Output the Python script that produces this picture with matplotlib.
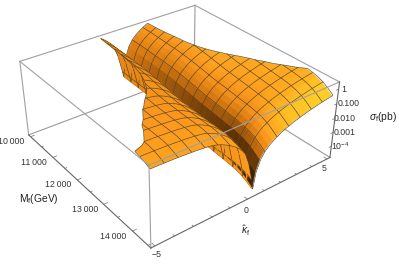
import numpy as np, matplotlib
matplotlib.use("Agg")
import matplotlib.pyplot as plt
from matplotlib.colors import LinearSegmentedColormap
from mpl_toolkits.mplot3d import proj3d
from mpl_toolkits.mplot3d.art3d import Poly3DCollection

plt.rcParams['font.family']=['Liberation Sans','DejaVu Sans']
plt.rcParams['mathtext.fontset']='custom'
plt.rcParams['mathtext.rm']='Liberation Sans'
plt.rcParams['mathtext.it']='Liberation Sans:italic'
plt.rcParams['mathtext.bf']='Liberation Sans:bold'
plt.rcParams['mathtext.default']='regular'

# ---- values ------------------------------------------------------------
# kappa nodes and the height (decades) of each sheet across kappa
kappa_left=[-5.0,-4.778,-4.556,-4.333,-4.111,-3.889,-3.667,-3.444,-3.222,-3.0,-2.778,-2.556,-2.333,-2.111,
            -1.889,-1.667,-1.444,-1.222,-1.0,-0.778,-0.556,-0.333,-0.111,0.111,0.333]
profile_left=[1.40,1.395,1.39,1.38,1.37,1.36,1.345,1.33,1.31,1.29,1.27,1.24,1.21,1.17,
              1.12,1.03,0.92,0.78,0.62,0.44,0.22,-0.05,-0.45,-1.2,-2.4]
kappa_valley=0.4
profile_valley=-2.88
kappa_right=[0.43,0.556,0.778,1.0,1.222,1.444,1.667,1.889,2.111,2.333,2.556,2.778,3.0,3.222,3.444,3.667,
             3.889,4.111,4.333,4.556,4.778,5.0]
profile_right=[-2.6,-1.61,-0.845,-0.44,-0.17,0.04,0.2,0.35,0.47,0.57,0.67,0.75,0.83,0.9,0.97,1.03,
               1.085,1.14,1.19,1.24,1.28,1.325]
# mass nodes and the height (decades) of each sheet along the mass direction
mass_nodes=[10000,10150,10300,10450,10600,10750,10900,11050,11200,11350,11500,11650,11800,11950,12100,12250,
            12400,12550,12700,12850,13000,13150,13300,13450,13600,13750,13900,14050,14200,14350,14500]
mass_right=[-.02,-.03,-.04,-.05,-.07,-.09,-.11,-.13,-.14,-.17,-.20,-.24,-.29,-.34,-.40,-.46,
            -.52,-.58,-.63,-.67,-.72,-.76,-.81,-.86,-.90,-.955,-1.03,-1.13,-1.28,-1.51,-1.78]
mass_left=[-.13,-.15,-.17,-.19,-.21,-.23,-.25,-.27,-.30,-.33,-.37,-.42,-.47,-.53,-.60,-.67,
           -.74,-.80,-.85,-.89,-.92,-.94,-.96,-.98,-.99,-1.00,-1.01,-1.03,-1.10,-1.22,-1.36]
z_clip_top=0.37
z_clip_bottom=-4.73

mass_ticks=[10000,11000,12000,13000,14000]
mass_tick_labels=['10\u2009000','11\u2009000','12\u2009000','13\u2009000','14\u2009000']
mass_minor=[10500,11500,12500,13500,14500]
kappa_ticks=[-5,0,5]
kappa_tick_labels=['\u22125','0','5']
kappa_minor=[-4,-3,-2,-1,1,2,3,4]
z_ticks=[0,-1,-2,-3,-4]
z_tick_labels=['1','0.100','0.010','0.001','$10^{-4}$']
z_label_dx=[5,12,10,12,9]

# ---- view ----------------------------------------------------------------
W,H=399,267
xl=(9910,14590); yl=(-5.2,5.2); zl=(-4.83,0.48)
elev,azim,focal=31.87,-37.26,0.4571
aspect=(1,1.0079,0.398)
fig=plt.figure(figsize=(W/100,H/100),dpi=100)
ax=fig.add_axes([14.12/W,-4.69/H,315.3/W,315.3/H],projection='3d')
ax.set_xlim(*xl);ax.set_ylim(*yl);ax.set_zlim(*zl)
ax.view_init(elev,azim);ax.set_proj_type('persp',focal_length=focal);ax.set_box_aspect(aspect)
ax.set_axis_off();ax.patch.set_alpha(0);ax.computed_zorder=False

# ---- surface -------------------------------------------------------------
K=np.r_[kappa_left,kappa_valley,kappa_right]
M=np.array(mass_nodes,float);gr=np.array(mass_right);gl=np.array(mass_left)
Zg=np.hstack([np.array(profile_left)[None,:]+gl[:,None],(profile_valley+(gr+gl)/2)[:,None],np.array(profile_right)[None,:]+gr[:,None]])

rng=np.array([xl[1]-xl[0],yl[1]-yl[0],zl[1]-zl[0]])
asp=np.array(aspect)
L=np.array([0.60,0.24,0.76]);L=L/np.linalg.norm(L)
cmap=LinearSegmentedColormap.from_list('o',[(0,'#3c1e04'),(.25,'#7a4208'),(.5,'#d97a10'),(.68,'#fb981c'),(.82,'#ffb020'),(1,'#ffe028')])
def shade(q):
    b=q/rng*asp
    n=np.cross(b[2]-b[0],b[3]-b[1]);n=n/np.linalg.norm(n)
    if n[2]<0:n=-n
    t=np.clip(n@L,0,1)
    m=(q[:,0].mean()-M[0])/(M[-1]-M[0])
    if q[:,1].mean()<kappa_valley:
        t=0.60+0.12*m**2+0.08*(t-0.7)
    else:
        t=t+0.5*(1-m)*(1-t)**2
    return cmap(np.clip(t,0,1))
def clip(poly):
    for lim,sgn in ((z_clip_top,1),(z_clip_bottom,-1)):
        out=[]
        for i in range(len(poly)):
            a,b=poly[i],poly[(i+1)%len(poly)]
            ia=sgn*(a[2]-lim)<=0;ib=sgn*(b[2]-lim)<=0
            if ia:out.append(a)
            if ia!=ib:
                t=(lim-a[2])/(b[2]-a[2]);out.append(a+t*(b-a))
        poly=out
        if not poly:break
    return poly
def clipseg(a,b):
    for lim,sgn in ((z_clip_top,1),(z_clip_bottom,-1)):
        ia=sgn*(a[2]-lim)<=0;ib=sgn*(b[2]-lim)<=0
        if not ia and not ib:return None
        if ia!=ib:
            t=(lim-a[2])/(b[2]-a[2]);c=a+t*(b-a)
            if ia:b=c
            else:a=c
    return a,b

eye=np.array([np.cos(np.radians(elev))*np.cos(np.radians(azim)),np.cos(np.radians(elev))*np.sin(np.radians(azim)),np.sin(np.radians(elev))])
lift=eye*rng/asp*0.035

verts=[];fc=[];ec=[]
P=np.dstack([np.broadcast_to(M[:,None],Zg.shape),np.broadcast_to(K[None,:],Zg.shape),Zg])
nm,nk=Zg.shape
mesh_col=(0.33,0.26,0.14,1)
for i in range(nm-1):
    for j in range(nk-1):
        q=np.array([P[i,j],P[i+1,j],P[i+1,j+1],P[i,j+1]])
        c=shade(q)
        pl=clip(list(q))
        if len(pl)<3:continue
        verts.append(np.array(pl));fc.append(c);ec.append(c)
        for a,b in zip(pl,pl[1:]+pl[:1]):
            if abs(a[2]-z_clip_top)<1e-9 and abs(b[2]-z_clip_top)<1e-9:
                verts.append(np.array([a+lift,b+lift]));fc.append((0,0,0,0));ec.append(mesh_col)
mesh_k=[j for j,k in enumerate(K) if np.min(np.abs(abs(k)-np.array([0.333,1.0,1.667,2.333,3.0,3.667,4.333,5.0])))<1e-3]
mesh_m=list(range(0,nm,2))
for j in mesh_k:
    for i in range(nm-1):
        s=clipseg(P[i,j],P[i+1,j])
        if s:verts.append(np.array([s[0]+lift,s[1]+lift]));fc.append((0,0,0,0));ec.append(mesh_col)
for i in mesh_m:
    for j in range(nk-1):
        s=clipseg(P[i,j],P[i,j+1])
        if s:verts.append(np.array([s[0]+lift,s[1]+lift]));fc.append((0,0,0,0));ec.append(mesh_col)
surf=Poly3DCollection(verts,facecolors=fc,edgecolors=ec,linewidths=0.45,zorder=5)
ax.add_collection3d(surf);surf.set_clip_on(False)

# ---- box -----------------------------------------------------------------
def pt(a,b,c):return (xl[a],yl[b],zl[c])
back=[(pt(0,0,0),pt(0,1,0)),(pt(0,1,0),pt(1,1,0)),(pt(0,1,0),pt(0,1,1))]
front=[(pt(0,0,1),pt(0,1,1)),(pt(0,1,1),pt(1,1,1)),(pt(0,0,1),pt(1,0,1)),(pt(1,0,1),pt(1,1,1)),
       (pt(0,0,1),pt(0,0,0)),(pt(1,0,1),pt(1,0,0))]
axes_e=[(pt(0,0,0),pt(1,0,0)),(pt(1,0,0),pt(1,1,0)),(pt(1,1,0),pt(1,1,1))]
for a,b in back:ax.plot(*zip(a,b),color='#9a9a9a',lw=0.8,zorder=1,clip_on=False)
for a,b in front:ax.plot(*zip(a,b),color='#a0a0a0',lw=0.8,zorder=8,clip_on=False)
for a,b in axes_e:ax.plot(*zip(a,b),color='#666666',lw=0.8,zorder=8,clip_on=False)

# ---- ticks and labels -----------------------------------------------------
tk=dict(color='#707070',lw=0.5,zorder=9,clip_on=False)
Pm=ax.get_proj()
def label(x,y,z,s,dx,dy,ha='center',fs=6.3):
    X,Y,_=proj3d.proj_transform(x,y,z,Pm)
    ax.annotate(s,xy=(X,Y),xycoords='data',xytext=(dx,dy),textcoords='offset pixels',ha=ha,va='center',fontsize=fs,color='#333333',annotation_clip=False)
y0,z0,x1,y1=yl[0],zl[0],xl[1],yl[1]
for m in mass_ticks:ax.plot([m,m],[y0,y0+.2],[z0,z0],**tk)
for m in mass_minor:ax.plot([m,m],[y0,y0+.1],[z0,z0],**tk)
for k in kappa_ticks:ax.plot([x1,x1-90],[k,k],[z0,z0],**tk)
for k in kappa_minor:ax.plot([x1,x1-45],[k,k],[z0,z0],**tk)
for z in z_ticks:ax.plot([x1,x1],[y1,y1-.15],[z,z],**tk)
for m,s in zip(mass_ticks,mass_tick_labels):label(m,y0,z0,s,-19,-5)
for k,s,o in zip(kappa_ticks,kappa_tick_labels,((2,-9),(-1,-11),(-3,-10))):label(x1,k,z0,s,*o)
for z,s,d in zip(z_ticks,z_tick_labels,z_label_dx):label(x1,y1,z,s,d,0,ha='center')
fig.text(39/W,1-199/H,'$M_{f}$(GeV)',ha='center',va='center',fontsize=7.4,color='#222222')
fig.text(246/W,1-231/H,r'$\hat{\mathit{\kappa}}_{f}$',ha='center',va='center',fontsize=7.4,color='#222222')
fig.text(383/W,1-117/H,r'$\mathit{\sigma}_{f}$(pb)',ha='center',va='center',fontsize=7.4,color='#222222')
fig.savefig('out.png',dpi=100)
